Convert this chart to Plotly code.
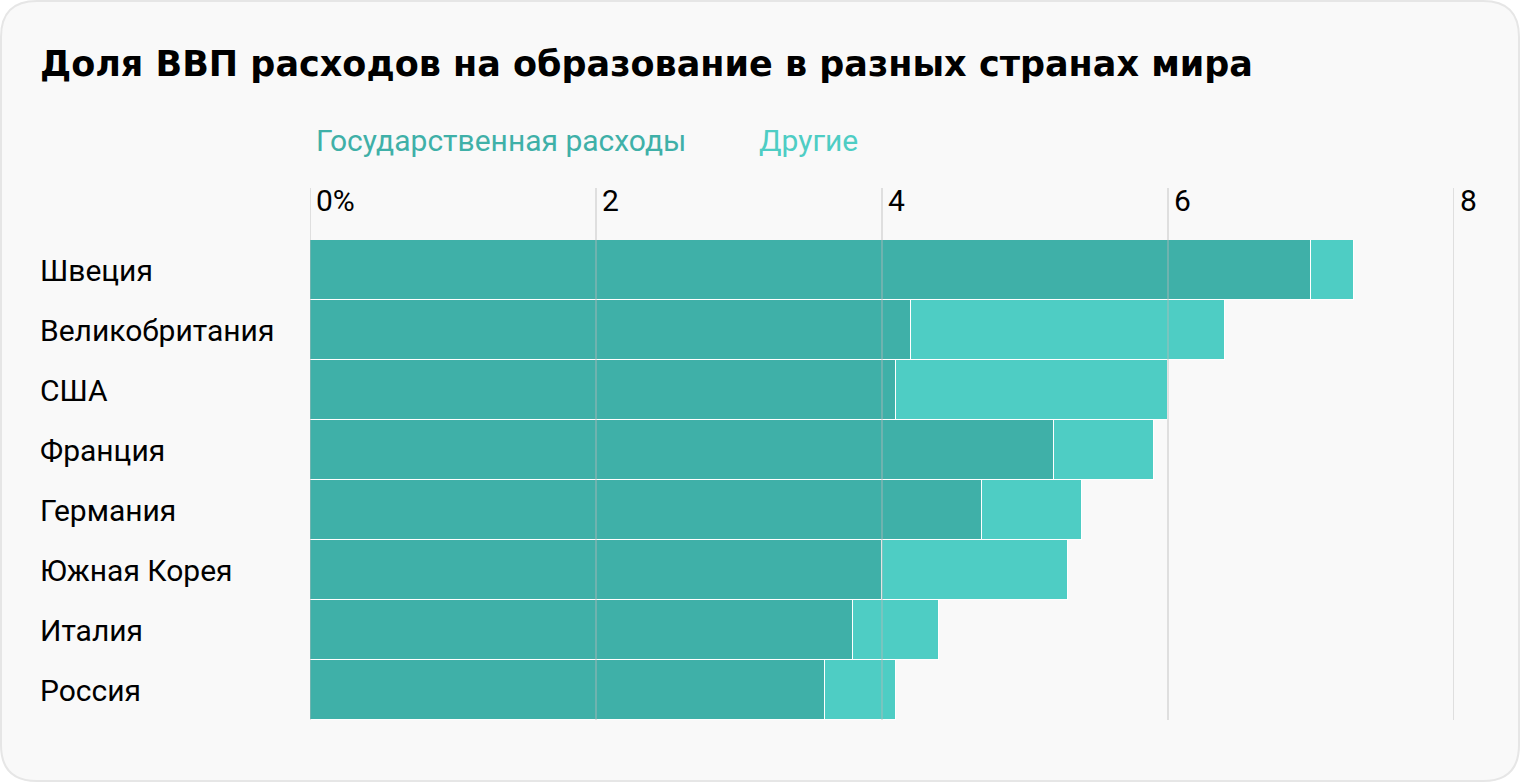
import plotly.graph_objects as go

countries = ["Швеция", "Великобритания", "США", "Франция", "Германия", "Южная Корея", "Италия", "Россия"]
gov = [7.0, 4.2, 4.1, 5.2, 4.7, 4.0, 3.8, 3.6]
other = [0.3, 2.2, 1.9, 0.7, 0.7, 1.3, 0.6, 0.5]
tick_vals = [0, 2, 4, 6, 8]
tick_text = ["0%", "2", "4", "6", "8"]
series_names = ["Государственная расходы", "Другие"]
title = "Доля ВВП расходов на образование в разных странах мира"

W, H = 1520, 782
L, R, T, B = 310, 66, 240, 62
PW, PH = W - L - R, H - T - B
C_GOV = "#3fb0a8"
C_OTH = "#4ecdc4"
FONT = "Roboto"
TFONT = "DejaVu Sans"


def px(xp):
    return (xp - L) / PW


def py(yp):
    return (H - B - yp) / PH


fig = go.Figure()
fig.add_trace(go.Bar(y=countries, x=gov, orientation="h", name=series_names[0],
                     marker=dict(color=C_GOV, line=dict(color="white", width=1))))
fig.add_trace(go.Bar(y=countries, x=other, orientation="h", name=series_names[1],
                     marker=dict(color=C_OTH, line=dict(color="white", width=1))))

shapes = []
# card background
x0, x1, y0, y1, r = 1, W - 1, 1, H - 1, 36
path = (f"M {px(x0 + r)} {py(y0)} L {px(x1 - r)} {py(y0)} Q {px(x1)} {py(y0)} {px(x1)} {py(y0 + r)} "
        f"L {px(x1)} {py(y1 - r)} Q {px(x1)} {py(y1)} {px(x1 - r)} {py(y1)} "
        f"L {px(x0 + r)} {py(y1)} Q {px(x0)} {py(y1)} {px(x0)} {py(y1 - r)} "
        f"L {px(x0)} {py(y0 + r)} Q {px(x0)} {py(y0)} {px(x0 + r)} {py(y0)} Z")
shapes.append(dict(type="path", path=path, xref="paper", yref="paper",
                   fillcolor="#f9f9f9", line=dict(color="#e6e6e6", width=2), layer="below"))
# gridlines drawn above bars
for v in tick_vals:
    shapes.append(dict(type="line", xref="x", yref="paper", x0=v, x1=v, y0=0, y1=py(188),
                       line=dict(color="rgba(185,185,185,0.4)", width=2), layer="above"))

annotations = []
annotations.append(dict(text=f"<b>{title}</b>", xref="paper", yref="paper", x=px(38), y=py(64),
                        xanchor="left", yanchor="middle", showarrow=False,
                        font=dict(family=TFONT, size=35, color="#000000")))
annotations.append(dict(text=series_names[0], xref="paper", yref="paper", x=px(314), y=py(140),
                        xanchor="left", yanchor="middle", showarrow=False,
                        font=dict(family=FONT, size=30, color=C_GOV)))
annotations.append(dict(text=series_names[1], xref="paper", yref="paper", x=px(757), y=py(140),
                        xanchor="left", yanchor="middle", showarrow=False,
                        font=dict(family=FONT, size=30, color=C_OTH)))
for v, t in zip(tick_vals, tick_text):
    annotations.append(dict(text=t, xref="x", yref="paper", x=v, y=py(200), xshift=4,
                            xanchor="left", yanchor="middle", showarrow=False,
                            font=dict(family=FONT, size=30, color="#000000")))
for c in countries:
    annotations.append(dict(text=c, xref="paper", yref="y", x=px(38), y=c,
                            xanchor="left", yanchor="middle", showarrow=False,
                            font=dict(family=FONT, size=30, color="#000000")))

fig.update_layout(
    width=W, height=H, barmode="stack", bargap=0,
    margin=dict(l=L, r=R, t=T, b=B, pad=0),
    paper_bgcolor="white", plot_bgcolor="rgba(0,0,0,0)",
    showlegend=False,
    xaxis=dict(range=[0, 8], showgrid=False, zeroline=False, showticklabels=False, fixedrange=True),
    yaxis=dict(autorange="reversed", showgrid=False, zeroline=False, showticklabels=False, fixedrange=True),
    shapes=shapes, annotations=annotations,
    font=dict(family=FONT),
)
fig.write_html("out.html", config={"displayModeBar": False},
               post_script="document.body.style.margin='0';document.body.style.padding='0';")
